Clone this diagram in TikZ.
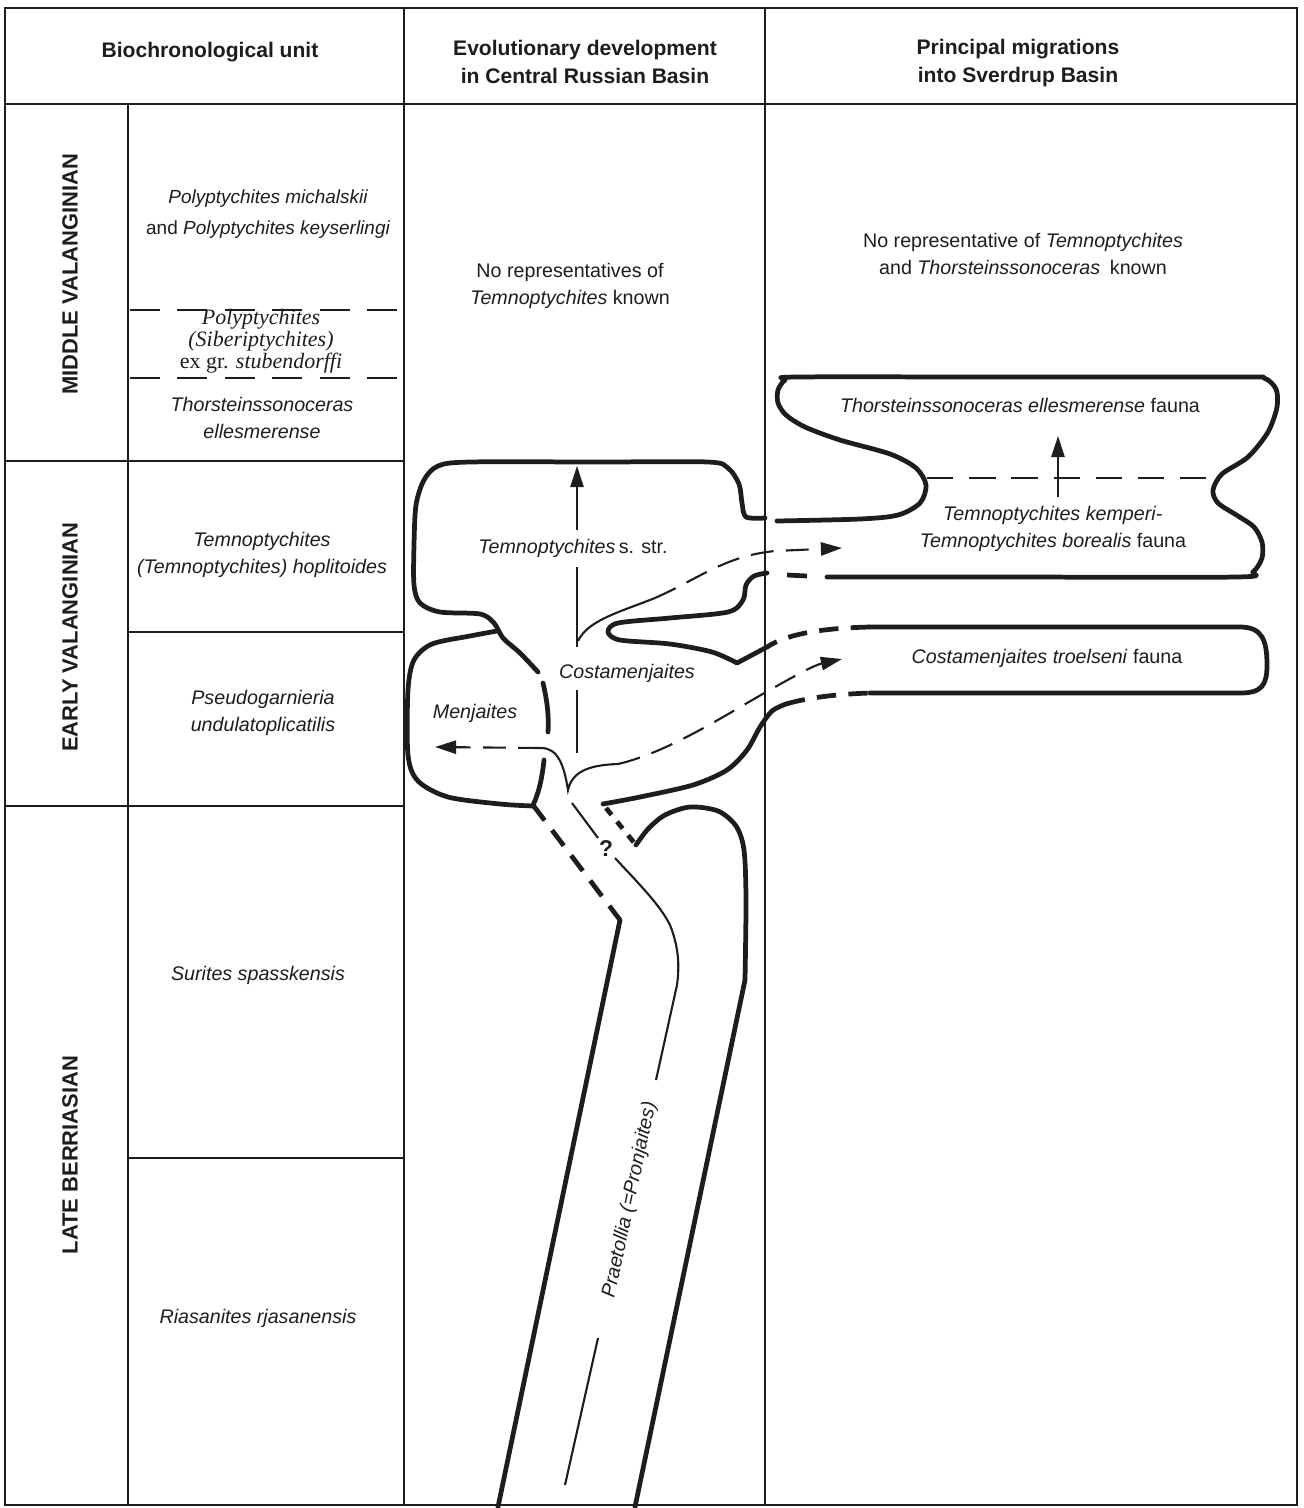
\documentclass[tikz,border=0pt]{standalone}
\usepackage{fontspec}
\setsansfont{Liberation Sans}
\newfontfamily\oldserif{Liberation Serif}
\usepackage{tikz}
\usetikzlibrary{arrows.meta, positioning}
\definecolor{Ink}{RGB}{30,28,30}
\tikzset{
  tbl/.style={draw=Ink, line width=1.1pt},
  zdash/.style={draw=Ink, line width=1.7pt, dash pattern=on 17pt off 10pt},
  wall/.style={draw=Ink, line width=2.7pt, line cap=round, line join=round},
  wdash/.style={draw=Ink, line width=2.7pt, dash pattern=on 11pt off 7pt},
  tline/.style={draw=Ink, line width=1.2pt},
  tdash/.style={draw=Ink, line width=1.2pt, dash pattern=on 13pt off 7pt},
  mdash/.style={draw=Ink, line width=1.6pt, dash pattern=on 15pt off 9pt},
  arr/.style={-{Triangle[length=12pt,width=7.5pt]}},
  hdr/.style={font=\sffamily\bfseries\fontsize{12}{16}\selectfont, align=center, text=Ink},
  stage/.style={font=\sffamily\bfseries\fontsize{12.5}{15}\selectfont, rotate=90, text=Ink},
  zone/.style={font=\sffamily\itshape\fontsize{11.2}{15}\selectfont, align=center, text=Ink, inner sep=1pt},
  lbl/.style={font=\sffamily\fontsize{11.2}{15}\selectfont, align=center, text=Ink, inner sep=1pt},
  oldz/.style={font=\oldserif\itshape\fontsize{12.5}{11}\selectfont, align=center, text=Ink, inner sep=0pt}
}

\begin{document}
\begin{tikzpicture}[x=0.02cm, y=-0.02cm]
  \useasboundingbox (0,0) rectangle (1303,1508);

  % table
  \draw[tbl] (5,8) rectangle (1297,1505);
  \draw[tbl] (5,104) -- (1297,104);
  \draw[tbl] (404,8) -- (404,1505);
  \draw[tbl] (765,8) -- (765,1505);
  \draw[tbl] (128,104) -- (128,1505);
  \draw[tbl] (5,461) -- (404,461);
  \draw[tbl] (128,632) -- (404,632);
  \draw[tbl] (5,806) -- (404,806);
  \draw[tbl] (128,1158) -- (404,1158);
  \draw[zdash] (130,310) -- (404,310);
  \draw[zdash] (130,378) -- (404,378);

  \node[hdr] (hu) at (210,52) {Biochronological unit};
  \node[hdr] (he) at (585,62) {Evolutionary development\\in Central Russian Basin};
  \node[hdr] (hm) at (1018,63) {Principal migrations\\into Sverdrup Basin};

  \node[stage] (sm) at (70,274) {MIDDLE VALANGINIAN};
  \node[stage] (se) at (70,637) {EARLY VALANGINIAN};
  \node[stage] (sl) at (70,1155) {LATE BERRIASIAN};

  \node[zone, font=\sffamily\itshape\fontsize{10.8}{17.5}\selectfont] (z1) at (268,214) {Polyptychites michalskii\\\textup{and} Polyptychites keyserlingi};
  \node[oldz] (z2) at (261,341) {Polyptychites\\(Siberiptychites)\\\textup{ex gr.} stubendorffi};
  \node[zone] (z3) at (262,418) {Thorsteinssonoceras\\ellesmerense};
  \node[zone] (z4) at (262,555) {Temnoptychites\\(Temnoptychites) hoplitoides};
  \node[zone] (z5) at (263,713) {Pseudogarnieria\\undulatoplicatilis};
  \node[zone] (z6) at (258,975) {Surites spasskensis};
  \node[zone] (z7) at (258,1318) {Riasanites rjasanensis};

  \node[lbl] (n1) at (570,286) {No representatives of\\\textit{Temnoptychites} known};
  \node[lbl] (n2) at (1023,254) {No representative of \textit{Temnoptychites}\\and \textit{Thorsteinssonoceras}\enspace known};

  % central basin
  \draw[wall] plot[smooth, tension=0.5] coordinates {(765,518) (746,517) (742,503) (739,484) (728,468) (708,462) (600,462) (470,462) (438,466) (424,480) (416,505) (414,545) (414,585) (420,603) (440,612) (480,614) (494,623) (503,638) (520,653) (538,672)};
  \draw[wall] plot[smooth, tension=0.5] coordinates {(497,631) (470,636) (432,644) (414,660) (408,690) (408,755) (418,781) (448,797) (500,804) (533,806)};
  \draw[wall] (543,683) .. controls (547,700) and (549,715) .. (548,732);
  \draw[wall] (544,760) .. controls (542,780) and (538,795) .. (533,805);
  \coordinate (yj) at (533,805);
  \draw[wdash] (yj) -- (620,920);
  \draw[wall] (620,920) -- (498,1507);
  \draw[wall] plot[smooth, tension=0.5] coordinates {(636,845) (648,829) (665,815) (690,807) (718,811) (736,826) (744,850) (746,900) (745,980)} -- (635,1507);
  \draw[wdash, dash pattern=on 5pt off 5pt] (606,808) -- (636,845);
  \draw[wall] plot[smooth, tension=0.5] coordinates {(603,804) (640,797) (693,785) (727,770) (747,750) (760,727) (772,711) (786,704)};
  \draw[wdash] (786,704) .. controls (810,697) and (840,694) .. (870,693);
  \draw[wall] (767,647) -- plot[smooth, tension=0.5] coordinates {(737,663) (712,652) (670,644) (620,640) (608,632) (618,623) (670,618) (728,612) (743,600) (746,585) (754,576) (767,573)};
  \draw[wall, line cap=butt] (787,575) -- (807,576);
  \draw[wdash] (870,627) .. controls (830,628) and (790,632) .. (767,647);

  % Sverdrup lobes
  \draw[wall] plot[smooth, tension=0.5] coordinates {(827,577) (1000,577) (1236,577) (1253,572) (1262,558) (1262,542) (1254,527) (1238,516) (1218,503) (1213,490) (1222,474) (1248,457) (1268,432) (1277,407) (1276,389) (1264,378) (1240,377) (1000,377) (797,377) (785,380) (778,390) (778,403) (786,415) (805,427) (840,440) (890,454) (916,468) (926,485) (920,503) (898,515) (860,519) (777,521)};
  \draw[wall] (870,693) -- (1240,693) .. controls (1262,693) and (1267,685) .. (1267,665) .. controls (1267,640) and (1262,627) .. (1240,627) -- (870,627);
  \draw[mdash] (927,478) -- (1213,478);
  \draw[tline, arr] (1058,497) -- (1058,436);

  % lineages
  \draw[tline] (577,753) -- (577,690);
  \draw[tline] (577,647) -- (577,567);
  \draw[tline, arr] (577,530) -- (577,466);
  \draw[tline] (578,641) .. controls (588,620) and (620,612) .. (655,598);
  \draw[tdash, arr] (655,598) .. controls (700,578) and (725,556) .. (775,551) -- (842,548);
  \draw[tdash, arr] (541,748) -- (435,747);
  \draw[tline] (541,748) .. controls (558,748) and (564,765) .. (568,790) .. controls (572,772) and (588,765) .. (618,764);
  \draw[tdash, arr] (618,764) .. controls (670,752) and (730,712) .. (775,687) .. controls (800,673) and (815,665) .. (842,659);
  \draw[tline] (572,803) -- (598,838);
  \draw[tline] (615,858) .. controls (640,885) and (660,905) .. (670,925) .. controls (680,950) and (679,970) .. (677,985) -- (656,1080);
  \draw[tline] (598,1338) -- (565,1485);

  \node[lbl, font=\sffamily\bfseries\fontsize{13}{15}\selectfont] (q) at (606,849) {?};
  \node[lbl] (l1) at (573,548) {\textit{Temnoptychites}\,s. str.};
  \node[zone] (l2) at (627,673) {Costamenjaites};
  \node[zone] (l3) at (475,713) {Menjaites};
  \node[zone, rotate=78] (l4) at (630,1200) {Praetollia (=Pronjaites)};

  \node[lbl] (f1) at (1020,405) {\textit{Thorsteinssonoceras ellesmerense} fauna};
  \node[lbl] (f2) at (1053,529) {\textit{Temnoptychites kemperi}-\\\textit{Temnoptychites borealis} fauna};
  \node[lbl] (f3) at (1047,658) {\textit{Costamenjaites troelseni} fauna};
\end{tikzpicture}
\end{document}
